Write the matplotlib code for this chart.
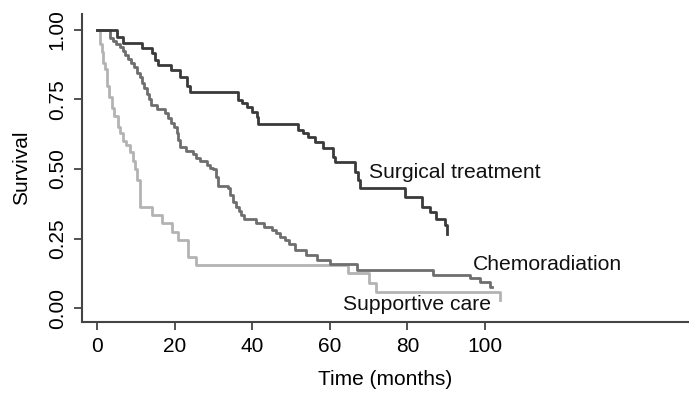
import matplotlib
matplotlib.use("Agg")
import matplotlib.pyplot as plt

plt.rcParams['font.family'] = ['Liberation Sans', 'DejaVu Sans']

# Surgical treatment
surg_t = [0, 5.2, 6.7, 11.5, 14.1, 15.0, 15.8, 19.2, 21.4, 23.1, 24.0, 36.4, 37.5, 38.6, 40.0,
          41.2, 41.6, 51.9, 53.2, 54.4, 56.3, 58.2, 60.8, 61.3, 66.5, 67.4, 67.8, 79.4, 83.7,
          85.8, 87.5, 89.7, 90.1]
surg_s = [1.0, 0.975, 0.952, 0.934, 0.916, 0.892, 0.874, 0.856, 0.832, 0.80, 0.778, 0.748, 0.736,
          0.724, 0.706, 0.688, 0.662, 0.64, 0.628, 0.616, 0.596, 0.575, 0.544, 0.526, 0.49, 0.46,
          0.43, 0.40, 0.364, 0.346, 0.32, 0.30, 0.266]

# Chemoradiation
chemo_t = [0, 3.4, 4.2, 5.0, 5.8, 6.7, 7.3, 8.0, 8.7, 9.5, 10.2, 11.0, 11.6, 12.2, 12.8, 13.4,
           14.0, 15.5, 17.5, 18.3, 19.0, 19.8, 20.5, 21.0, 21.4, 23.0, 24.7, 25.6, 26.5, 28.3,
           29.2, 30.0, 30.6, 31.2, 33.8, 34.4, 35.0, 35.8, 36.5, 37.2, 38.0, 41.0, 43.0, 45.0,
           46.2, 47.2, 48.5, 49.5, 51.0, 54.0, 56.6, 60.0, 67.0, 86.7, 96.1, 98.7, 101.3, 101.8]
chemo_s = [1.0, 0.97, 0.96, 0.95, 0.94, 0.925, 0.91, 0.895, 0.88, 0.865, 0.845, 0.83, 0.81,
           0.79, 0.77, 0.75, 0.73, 0.715, 0.70, 0.685, 0.665, 0.65, 0.63, 0.605, 0.58, 0.565,
           0.555, 0.54, 0.53, 0.515, 0.505, 0.50, 0.47, 0.44, 0.43, 0.405, 0.38, 0.365, 0.35,
           0.335, 0.32, 0.305, 0.29, 0.28, 0.268, 0.256, 0.243, 0.23, 0.209, 0.19, 0.173, 0.16,
           0.137, 0.119, 0.107, 0.095, 0.077, 0.077]

# Supportive care
supp_t = [0, 0.8, 1.2, 1.6, 2.0, 2.5, 3.0, 3.8, 4.5, 5.5, 6.0, 6.8, 7.5, 8.5, 9.2, 9.8, 10.4,
          11.0, 11.2, 14.3, 16.8, 19.4, 21.0, 23.5, 25.5, 64.8, 70.0, 72.0, 103.8]
supp_s = [1.0, 0.95, 0.92, 0.88, 0.86, 0.80, 0.76, 0.72, 0.69, 0.65, 0.63, 0.60, 0.585, 0.56,
          0.53, 0.50, 0.46, 0.42, 0.365, 0.335, 0.305, 0.275, 0.245, 0.185, 0.155, 0.125, 0.089,
          0.056, 0.03]

x_ticks = [0, 20, 40, 60, 80, 100]
y_ticks = [0.00, 0.25, 0.50, 0.75, 1.00]
y_ticklabels = ["0.00", "0.25", "0.50", "0.75", "1.00"]

fig = plt.figure(figsize=(6.89, 3.95), dpi=100)
ax = fig.add_axes([0.119, 0.185, 0.881, 0.78])

ax.step(supp_t, supp_s, where='post', color='#b3b3b3', lw=2.0)
ax.step(chemo_t, chemo_s, where='post', color='#6e6e6e', lw=2.0)
ax.step(surg_t, surg_s, where='post', color='#3a3a3a', lw=2.0)

ax.text(70.1, 0.486, "Surgical treatment", fontsize=15.2, va='center', ha='left', color='#111111')
ax.text(96.8, 0.155, "Chemoradiation", fontsize=15.2, va='center', ha='left', color='#111111')
ax.text(63.5, 0.011, "Supportive care", fontsize=15.2, va='center', ha='left', color='#111111')

ax.set_xlim(-3.87, 152.6)
ax.set_ylim(-0.05, 1.058)
ax.set_xticks(x_ticks)
ax.set_yticks(y_ticks)
ax.set_yticklabels(y_ticklabels, rotation=90, va='center')
ax.tick_params(axis='both', labelsize=15, length=6, width=1.3, color='#444444', pad=5)

for side in ['top', 'right']:
    ax.spines[side].set_visible(False)
for side in ['left', 'bottom']:
    ax.spines[side].set_color('#444444')
    ax.spines[side].set_linewidth(1.5)

ax.set_xlabel("Time (months)", fontsize=15, labelpad=10)
ax.set_ylabel("Survival", fontsize=15, labelpad=12)

fig.savefig("out.png", dpi=100)
